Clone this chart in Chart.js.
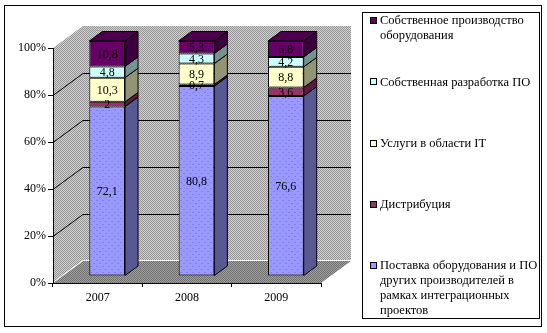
<!DOCTYPE html>
<html>
<head>
<meta charset="utf-8">
<script src="https://cdn.jsdelivr.net/npm/chart.js@4.4.1/dist/chart.umd.min.js"></script>
<style>
  body { margin: 0; background: #fff; }
  canvas { display: block; }
</style>
</head>
<body>
<canvas id="grafico" width="547" height="333"></canvas>
<script>
// dados
const anos = ['2007', '2008', '2009'];
const nomes = [
    'Поставка оборудования и ПО\nдругих производителей в\nрамках интеграционных\nпроектов',
    'Дистрибуция',
    'Услуги в области IT',
    'Собственная разработка ПО',
    'Собственное производство\nоборудования'
];
const postavka = [72.1, 80.8, 76.6];
const distribuciya = [2, 0.7, 3.6];
const uslugi = [10.3, 8.9, 8.8];
const razrabotka = [4.8, 4.3, 4.2];
const proizvodstvo = [10.8, 5.3, 6.8];
const ticksY = [0, 20, 40, 60, 80, 100];
const cores = ['#9999FF', '#993366', '#FFFFCC', '#CCFFFF', '#660066'];

const canvas = document.getElementById('grafico');
const ctx = canvas.getContext('2d');

// profundidade das paredes e das barras
const fundo = { x: 30, y: -22 };
const desloc = { x: 9.5, y: -7 };
const prof = { x: 13, y: -9.5 };

function tom(hex, k) {
    const n = parseInt(hex.slice(1), 16);
    const r = Math.round(((n >> 16) & 255) * k);
    const g = Math.round(((n >> 8) & 255) * k);
    const b = Math.round((n & 255) * k);
    return 'rgb(' + r + ',' + g + ',' + b + ')';
}

function xadrez(c1, c2) {
    const p = document.createElement('canvas');
    p.width = 2; p.height = 2;
    const g = p.getContext('2d');
    g.fillStyle = c1; g.fillRect(0, 0, 2, 2);
    g.fillStyle = c2; g.fillRect(0, 0, 1, 1); g.fillRect(1, 1, 1, 1);
    return ctx.createPattern(p, 'repeat');
}

function pontos(base, ponto, passo) {
    const p = document.createElement('canvas');
    p.width = passo; p.height = passo;
    const g = p.getContext('2d');
    g.fillStyle = base; g.fillRect(0, 0, passo, passo);
    g.fillStyle = ponto;
    g.fillRect(0, 0, 1, 1);
    g.fillRect(passo / 2, passo / 2, 1, 1);
    return ctx.createPattern(p, 'repeat');
}

const paredePat = pontos('#d0d0d0', '#969696', 2);
const chaoPat = xadrez('#a0a0a0', '#707070');
const frentes = [pontos('#9999FF', '#6e6ed8', 6), cores[1], cores[2], cores[3], cores[4]];
const lados = cores.map(c => xadrez(tom(c, 0.68), tom(c, 0.48)));
const topos = cores.map(c => xadrez(tom(c, 0.85), tom(c, 0.65)));

function poligono(pts, fill, stroke) {
    ctx.beginPath();
    ctx.moveTo(pts[0][0], pts[0][1]);
    for (let i = 1; i < pts.length; i++) ctx.lineTo(pts[i][0], pts[i][1]);
    ctx.closePath();
    if (fill) { ctx.fillStyle = fill; ctx.fill(); }
    if (stroke) { ctx.strokeStyle = stroke; ctx.lineWidth = 1; ctx.stroke(); }
}

// paredes, chão e linhas de grade
const paredes = {
    id: 'paredes',
    beforeDraw(chart) {
        const a = chart.chartArea;
        const sy = chart.scales.y;
        const L = a.left, R = a.right, T = a.top, B = a.bottom;
        ctx.save();
        poligono([[L, B], [L + fundo.x, B + fundo.y], [L + fundo.x, T + fundo.y], [L, T]], paredePat);
        poligono([[L + fundo.x, B + fundo.y], [R + fundo.x, B + fundo.y], [R + fundo.x, T + fundo.y], [L + fundo.x, T + fundo.y]], paredePat);
        poligono([[L, B], [R, B], [R + fundo.x, B + fundo.y], [L + fundo.x, B + fundo.y]], chaoPat);
        ctx.strokeStyle = '#ffffff';
        ctx.beginPath();
        ctx.moveTo(L, B - 0.5);
        ctx.lineTo(L + fundo.x, B + fundo.y - 0.5);
        ctx.lineTo(R + fundo.x, B + fundo.y - 0.5);
        ctx.stroke();
        ctx.strokeStyle = '#000000';
        ticksY.forEach(v => {
            if (v === 0 || v === 100) return;
            const py = Math.round(sy.getPixelForValue(v)) + 0.5;
            ctx.beginPath();
            ctx.moveTo(L, py);
            ctx.lineTo(L + fundo.x, py + fundo.y);
            ctx.lineTo(R + fundo.x, py + fundo.y);
            ctx.stroke();
        });
        ctx.restore();
    }
};

// barras deslocadas para dentro, com lados, topo e rótulos
const barras3d = {
    id: 'barras3d',
    beforeDatasetsDraw(chart) {
        ctx.save();
        ctx.translate(desloc.x, desloc.y);
    },
    afterDatasetsDraw(chart) {
        const n = chart.data.datasets.length;
        chart.data.datasets.forEach((ds, i) => {
            const meta = chart.getDatasetMeta(i);
            meta.data.forEach(el => {
                const r = el.x + el.width / 2;
                const t = Math.min(el.y, el.base), b = Math.max(el.y, el.base);
                poligono([[r, t], [r + prof.x, t + prof.y], [r + prof.x, b + prof.y], [r, b]], lados[i], '#000');
                if (i === n - 1) {
                    const l = el.x - el.width / 2;
                    poligono([[l, t], [l + prof.x, t + prof.y], [r + prof.x, t + prof.y], [r, t]], topos[i], '#000');
                }
            });
        });
        ctx.fillStyle = '#000';
        ctx.font = '12px "Liberation Serif", "Times New Roman", serif';
        ctx.textAlign = 'center';
        ctx.textBaseline = 'middle';
        chart.data.datasets.forEach((ds, i) => {
            const meta = chart.getDatasetMeta(i);
            meta.data.forEach((el, j) => {
                const txt = String(ds.data[j]).replace('.', ',');
                ctx.fillText(txt, el.x, (el.y + el.base) / 2 + 1);
            });
        });
        ctx.restore();
    }
};

// legenda à direita e moldura
const legenda = {
    id: 'legenda',
    afterDraw(chart) {
        ctx.save();
        ctx.strokeStyle = '#000';
        ctx.lineWidth = 1;
        ctx.strokeRect(4.5, 5.5, 537, 321);
        ctx.fillStyle = '#fff';
        ctx.fillRect(362.5, 12.5, 177, 306);
        ctx.strokeRect(362.5, 12.5, 177, 306);
        ctx.font = '12.5px "Liberation Serif", "Times New Roman", serif';
        ctx.textBaseline = 'middle';
        ctx.textAlign = 'left';
        const ds = chart.data.datasets;
        for (let k = 0; k < ds.length; k++) {
            const i = ds.length - 1 - k;
            const y0 = 21 + k * 61.3;
            ctx.fillStyle = cores[i];
            ctx.fillRect(370.5, Math.round(y0) - 3.5, 6, 6);
            ctx.strokeRect(370.5, Math.round(y0) - 3.5, 6, 6);
            ctx.fillStyle = '#000';
            ds[i].label.split('\n').forEach((linha, m) => {
                ctx.fillText(linha, 380, y0 + m * 15);
            });
        }
        ctx.restore();
    }
};

Chart.defaults.font.family = '"Liberation Serif", "Times New Roman", serif';
Chart.defaults.font.size = 12;
Chart.defaults.color = '#000';

const series = [postavka, distribuciya, uslugi, razrabotka, proizvodstvo];

new Chart(canvas, {
    type: 'bar',
    data: {
        labels: anos,
        datasets: series.map((valores, i) => ({
            label: nomes[i],
            data: valores,
            backgroundColor: frentes[i],
            borderColor: '#000',
            borderWidth: 1,
            borderSkipped: false,
            clip: false,
            categoryPercentage: 1,
            barPercentage: 0.4
        }))
    },
    options: {
        responsive: false,
        animation: false,
        events: [],
        layout: { padding: { left: 0, top: 48, right: 226, bottom: 0 } },
        plugins: {
            legend: { display: false },
            tooltip: { enabled: false }
        },
        scales: {
            x: {
                stacked: true,
                afterFit(s) { s.height = 50; },
                grid: { drawOnChartArea: false, drawTicks: true, tickLength: 4, color: '#000', offset: true },
                border: { color: '#000' },
                ticks: { padding: 4 }
            },
            y: {
                stacked: true,
                min: 0,
                max: 100,
                afterFit(s) { s.width = 53; },
                afterBuildTicks(s) { s.ticks = ticksY.map(v => ({ value: v })); },
                grid: { drawOnChartArea: false, drawTicks: true, tickLength: 5, color: '#000' },
                border: { color: '#000' },
                ticks: { padding: 2, callback: v => v + '%' }
            }
        }
    },
    plugins: [paredes, barras3d, legenda]
});
</script>
</body>
</html>
